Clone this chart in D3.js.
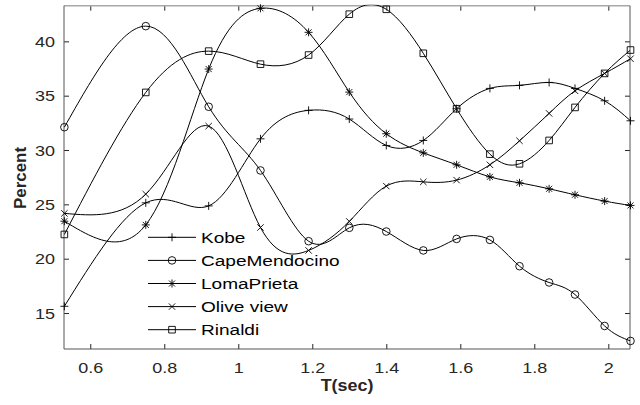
<!DOCTYPE html>
<html><head><meta charset="utf-8">
<script src="https://cdn.jsdelivr.net/npm/d3@7"></script>
<style>
html,body{margin:0;padding:0;background:#fff;}
svg{display:block;font-family:"Liberation Sans",Arial,sans-serif;}
</style></head>
<body><svg id="chart" width="640" height="405"></svg>
<script>
// ---- data ----
const periods = [0.53, 0.75, 0.92, 1.06, 1.19, 1.30, 1.40, 1.50, 1.59, 1.68, 1.76, 1.84, 1.91, 1.99, 2.06];
const seriesNames = ["Kobe", "CapeMendocino", "LomaPrieta", "Olive view", "Rinaldi"];
const kobe    = [15.62, 25.14, 24.86, 31.03, 33.65, 32.85, 30.42, 30.88, 33.80, 35.67, 35.95, 36.22, 35.67, 34.53, 32.69];
const cape    = [32.10, 41.40, 33.98, 28.12, 21.61, 22.84, 22.50, 20.76, 21.82, 21.73, 19.31, 17.81, 16.70, 13.81, 12.43];
const loma    = [23.45, 23.11, 37.45, 43.04, 40.83, 35.33, 31.50, 29.74, 28.64, 27.53, 26.98, 26.43, 25.88, 25.30, 24.90];
const olive   = [24.17, 25.94, 32.20, 22.87, 20.76, 23.43, 26.68, 27.07, 27.23, 28.64, 30.85, 33.37, 35.45, 37.05, 38.40];
const rinaldi = [22.23, 35.30, 39.10, 37.90, 38.74, 42.50, 42.95, 38.90, 33.80, 29.62, 28.73, 30.88, 33.92, 37.05, 39.20];
const seriesValues = [kobe, cape, loma, olive, rinaldi];
const markerKinds = ["plus", "circle", "asterisk", "times", "square"];
const xTicks = [0.6, 0.8, 1, 1.2, 1.4, 1.6, 1.8, 2];
const yTicks = [15, 20, 25, 30, 35, 40];
const xDomain = [0.529, 2.0586];
const yDomain = [11.69, 43.28];

// ---- layout ----
const L = 64, R = 630, T = 5.7, B = 349;
const svg = d3.select("#chart");
const x = d3.scaleLinear().domain(xDomain).range([L, R]);
const y = d3.scaleLinear().domain(yDomain).range([B, T]);
const SX = 1.24;

function markerPath(kind) {
  switch (kind) {
    case "plus": return "M-4,0H4M0,-4V4";
    case "times": return "M-3.2,-3.2L3.2,3.2M-3.2,3.2L3.2,-3.2";
    case "asterisk": return "M-4,0H4M0,-4V4M-3,-3L3,3M-3,3L3,-3";
    case "square": return "M-3.3,-3.3H3.3V3.3H-3.3Z";
    case "circle": return "M3.8,0A3.8,3.8 0 1,1 -3.8,0A3.8,3.8 0 1,1 3.8,0Z";
  }
}

const ink = "#262626";

svg.append("clipPath").attr("id","plotclip").append("rect")
  .attr("x", L).attr("y", T - 1).attr("width", R - L).attr("height", B - T + 1);

const axG = svg.append("g");
const xb = axG.append("g").attr("transform", `translate(0,${B})`)
  .call(d3.axisBottom(x).tickValues(xTicks).tickSize(-5).tickFormat(d3.format("~g")));
axG.append("g").attr("transform", `translate(0,${T})`)
  .call(d3.axisTop(x).tickValues(xTicks).tickSize(-5).tickFormat(""));
const yl = axG.append("g").attr("transform", `translate(${L},0)`)
  .call(d3.axisLeft(y).tickValues(yTicks).tickSize(-5));
axG.append("g").attr("transform", `translate(${R},0)`)
  .call(d3.axisRight(y).tickValues(yTicks).tickSize(-5).tickFormat(""));
axG.selectAll(".domain").remove();
axG.selectAll(".tick line").attr("stroke", ink).attr("stroke-width", 1);
axG.selectAll("text").attr("fill", ink).attr("font-family", "'Liberation Sans', Arial, sans-serif").attr("font-size", 14.5);
xb.selectAll("text").attr("y", 0).attr("dy", 0).attr("transform", `translate(0,24) scale(${SX},1)`);
yl.selectAll("text").attr("x", 0).attr("dy", "0.36em").attr("transform", `translate(-9,0) scale(${SX},1)`);

axG.append("line").attr("x1", L).attr("x2", R).attr("y1", T).attr("y2", T).attr("stroke", "#a8a8a8").attr("stroke-width", 1.5);
axG.append("line").attr("x1", L).attr("x2", R).attr("y1", B).attr("y2", B).attr("stroke", "#555").attr("stroke-width", 1);
axG.append("line").attr("x1", L).attr("x2", L).attr("y1", T).attr("y2", B).attr("stroke", "#555").attr("stroke-width", 1);
axG.append("line").attr("x1", R).attr("x2", R).attr("y1", T).attr("y2", B).attr("stroke", "#555").attr("stroke-width", 1);

const line = d3.line().x((d, i) => x(periods[i])).y(d => y(d)).curve(d3.curveNatural);
const plot = svg.append("g").attr("clip-path", "url(#plotclip)");
seriesValues.forEach((vals) => {
  plot.append("path").attr("d", line(vals)).attr("fill", "none").attr("stroke", "#000").attr("stroke-width", 1);
});
seriesValues.forEach((vals, si) => {
  svg.append("g").selectAll("path").data(vals).join("path")
    .attr("transform", (d, i) => `translate(${x(periods[i])},${y(d)})`)
    .attr("d", markerPath(markerKinds[si]))
    .attr("fill", "none").attr("stroke", "#000").attr("stroke-width", 0.9);
});

const lg = svg.append("g");
const legY0 = 237.3, legDY = 23.1;
seriesNames.forEach((name, i) => {
  const yy = legY0 + i*legDY;
  lg.append("line").attr("x1", 148).attr("x2", 196).attr("y1", yy).attr("y2", yy).attr("stroke", "#000").attr("stroke-width", 1);
  lg.append("path").attr("transform", `translate(172,${yy})`).attr("d", markerPath(markerKinds[i]))
    .attr("fill", "none").attr("stroke", "#000").attr("stroke-width", 0.9);
  lg.append("text").attr("transform", `translate(201,${yy}) scale(1.27,1)`).attr("dy", "0.36em")
    .attr("font-size", 15).attr("fill", "#000").text(name);
});

svg.append("text").attr("transform", `translate(347,391) scale(1.12,1)`).attr("text-anchor", "middle")
  .attr("font-size", 16).attr("font-weight", "bold").attr("fill", ink).text("T(sec)");
svg.append("text").attr("transform", `translate(25.5,178) rotate(-90) scale(1.06,1)`).attr("text-anchor", "middle")
  .attr("font-size", 16).attr("font-weight", "bold").attr("fill", ink).text("Percent");
</script></body></html>
